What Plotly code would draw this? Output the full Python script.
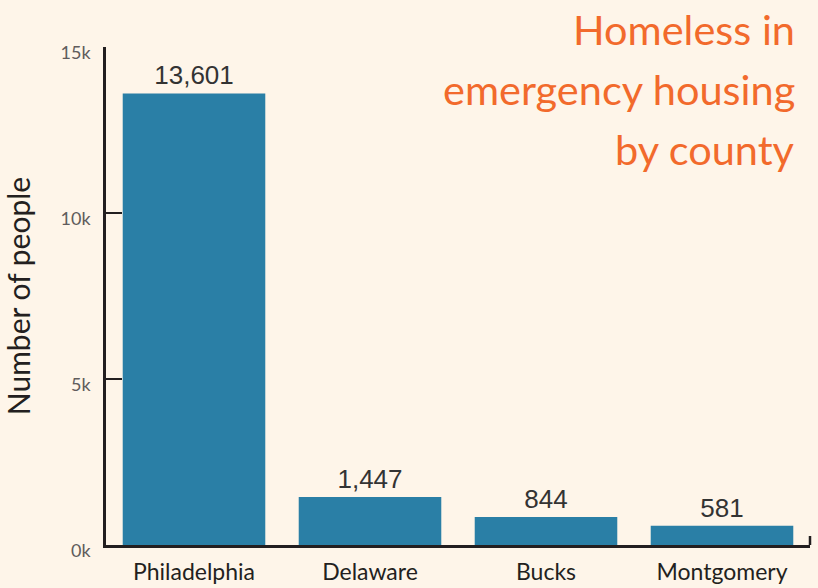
import plotly.graph_objects as go

# ---------------- Data ----------------
counties = ["Philadelphia", "Delaware", "Bucks", "Montgomery"]
people = [13601, 1447, 844, 581]

y_tick_vals = [0, 5000, 10000, 15000]
y_tick_text = ["0k", "5k", "10k", "15k"]
inner_ticks = [5000, 10000]

title_lines = ["Homeless in", "emergency housing", "by county"]

BG = "#FEF5E9"
BAR = "#2A7FA6"
INK = "#231F20"
ORANGE = "#F26A2C"

fig = go.Figure()

fig.add_trace(go.Bar(
    x=counties,
    y=people,
    marker_color=BAR,
    marker_line_width=0,
    text=[f"{v:,}" for v in people],
    textposition="outside",
    textfont=dict(family="Liberation Sans", size=26, color="#333333"),
    cliponaxis=False,
    showlegend=False
))

fig.update_layout(
    width=818,
    height=588,
    paper_bgcolor=BG,
    plot_bgcolor=BG,
    bargap=0.19,
    margin=dict(l=106, r=8, t=47, b=43),
    font=dict(family="Lato", color=INK),
    xaxis=dict(
        automargin=False,
        showline=True,
        linecolor=INK,
        linewidth=2.5,
        ticks="",
        ticklabelstandoff=5,
        tickfont=dict(family="Lato", size=23, color=INK),
        showgrid=False,
        zeroline=False
    ),
    yaxis=dict(
        automargin=False,
        range=[0, 15000],
        tickvals=y_tick_vals,
        ticktext=y_tick_text,
        tickfont=dict(family="Lato", size=18, color="#605C5C"),
        ticks="",
        ticklabelstandoff=9,
        ticklabelshift=6,
        showline=True,
        linecolor=INK,
        linewidth=2.5,
        showgrid=False,
        zeroline=False,
        title=dict(text="Number of people",
                   font=dict(family="Lato", size=30, color=INK),
                   standoff=26)
    ),
    yaxis2=dict(
        automargin=False,
        range=[0, 15000],
        overlaying="y",
        side="left",
        tickvals=inner_ticks,
        ticks="inside",
        ticklen=16,
        tickwidth=2,
        tickcolor=INK,
        showticklabels=False,
        showgrid=False,
        zeroline=False
    )
)

# dummy trace so the inner tick axis is drawn
fig.add_trace(go.Scatter(x=[counties[0]], y=[0], yaxis="y2", mode="markers",
                         marker=dict(opacity=0), hoverinfo="skip",
                         showlegend=False))

# small end tick at the right of the x axis
fig.add_shape(type="line", xref="paper", yref="paper", x0=1, x1=1,
              ysizemode="pixel", yanchor=0, y0=0, y1=9,
              line=dict(color=INK, width=2.5))

# title, one annotation per line for the wide line spacing
for i, line in enumerate(title_lines):
    fig.add_annotation(
        text=line,
        xref="paper", yref="paper",
        x=0.9815, y=1.037 - i * 0.1205,
        xanchor="right", yanchor="middle",
        showarrow=False,
        font=dict(family="Lato", size=41.5, color=ORANGE)
    )

# drop the browser's default page margin so the figure sits at 0,0
fig.write_html(
    "out.html",
    config={"displayModeBar": False},
    post_script="document.body.style.margin='0';"
                "document.body.style.background='" + BG + "';"
)
